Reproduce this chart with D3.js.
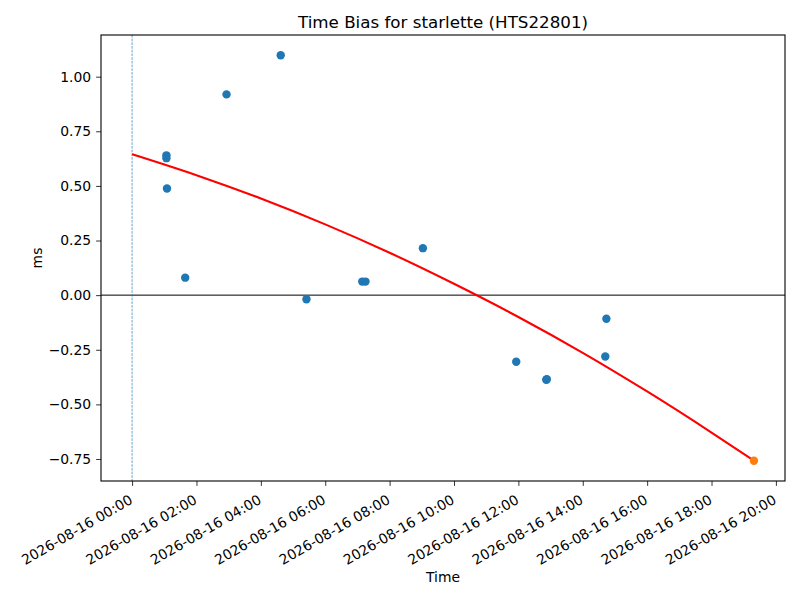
<!DOCTYPE html>
<html><head><meta charset="utf-8">
<script src="https://cdn.jsdelivr.net/npm/d3@7"></script>
<style>body{margin:0;background:#fff}svg{font-family:"DejaVu Sans",sans-serif}</style>
</head><body><svg id="c" width="800" height="600"></svg>
<script>
const title = "Time Bias for starlette (HTS22801)";
const xLabel = "Time";
const yLabel = "ms";
const obsTimes = ["2026-08-16 01:04","2026-08-16 01:04","2026-08-16 01:05","2026-08-16 01:39","2026-08-16 02:56","2026-08-16 04:37","2026-08-16 05:25","2026-08-16 07:09","2026-08-16 07:15","2026-08-16 09:02","2026-08-16 11:56","2026-08-16 12:52","2026-08-16 12:53","2026-08-16 14:42","2026-08-16 14:44"];
const obsValues = [0.640,0.627,0.488,0.080,0.919,1.098,-0.019,0.062,0.062,0.215,-0.305,-0.387,-0.385,-0.281,-0.108];
const latestTime = ["2026-08-16 19:19"];
const latestValue = [-0.758];
const fitTimes = ["2026-08-16 00:00","2026-08-16 02:00","2026-08-16 04:00","2026-08-16 06:00","2026-08-16 08:00","2026-08-16 10:00","2026-08-16 12:00","2026-08-16 14:00","2026-08-16 16:00","2026-08-16 18:00","2026-08-16 19:19"];
const fitValues = [0.645,0.549,0.442,0.324,0.194,0.052,-0.100,-0.264,-0.441,-0.629,-0.758];
const refTime = "2026-08-16 00:00";
const yTicks = [-0.75,-0.50,-0.25,0.00,0.25,0.50,0.75,1.00];
const xTickTimes = ["2026-08-16 00:00","2026-08-16 02:00","2026-08-16 04:00","2026-08-16 06:00","2026-08-16 08:00","2026-08-16 10:00","2026-08-16 12:00","2026-08-16 14:00","2026-08-16 16:00","2026-08-16 18:00","2026-08-16 20:00"];

const parse = d3.timeParse("%Y-%m-%d %H:%M");
const fmt = d3.timeFormat("%Y-%m-%d %H:%M");
const obs = obsTimes.map((t,i)=>({t:parse(t),v:obsValues[i]}));
const latest = latestTime.map((t,i)=>({t:parse(t),v:latestValue[i]}));
const fit = fitTimes.map((t,i)=>({t:parse(t),v:fitValues[i]}));

const L=101,R=785,T=35,B=481;
const allT = obs.concat(latest,fit).map(d=>+d.t);
const allV = obs.concat(latest,fit).map(d=>d.v);
const [t0,t1]=d3.extent(allT), pt=(t1-t0)*0.05;
const [v0,v1]=d3.extent(allV), pv=(v1-v0)*0.05;
const x=d3.scaleTime().domain([new Date(t0-pt),new Date(t1+pt)]).range([L,R]);
const y=d3.scaleLinear().domain([v0-pv,v1+pv]).range([B,T]);

const svg=d3.select("#c");
const fs=13.9;
// zero line
svg.append("line").attr("x1",L).attr("x2",R).attr("y1",y(0)).attr("y2",y(0)).attr("stroke","#000").attr("stroke-width",1);
// ref dashed line
svg.append("line").attr("x1",x(parse(refTime))).attr("x2",x(parse(refTime))).attr("y1",T).attr("y2",B)
  .attr("stroke","#1f77b4").attr("stroke-opacity",0.75).attr("stroke-width",0.9).attr("stroke-dasharray","2.6,1.1");
// points
svg.append("g").selectAll("circle").data(obs).join("circle").attr("cx",d=>x(d.t)).attr("cy",d=>y(d.v)).attr("r",4.2).attr("fill","#1f77b4");
// fit
svg.append("path").datum(fit).attr("fill","none").attr("stroke","red").attr("stroke-width",2.1)
  .attr("d",d3.line().x(d=>x(d.t)).y(d=>y(d.v)).curve(d3.curveMonotoneX));
svg.append("g").selectAll("circle").data(latest).join("circle").attr("cx",d=>x(d.t)).attr("cy",d=>y(d.v)).attr("r",4.2).attr("fill","#ff7f0e");

// axes
const xa=svg.append("g").attr("transform",`translate(0,${B})`)
  .call(d3.axisBottom(x).tickValues(xTickTimes.map(parse)).tickFormat(fmt).tickSize(4.9).tickPadding(3.5));
xa.selectAll("text").attr("font-size",fs).attr("fill","#000").attr("text-anchor","end")
  .attr("y",0).attr("dy","0.72em").attr("transform","translate(-4,13) rotate(-30)");
const ya=svg.append("g").attr("transform",`translate(${L},0)`)
  .call(d3.axisLeft(y).tickValues(yTicks).tickFormat(d=>d3.format(".2f")(d).replace("-","\u2212")).tickSize(4.9).tickPadding(4.9));
ya.selectAll("text").attr("font-size",fs).attr("fill","#000");
[xa,ya].forEach(a=>{a.select(".domain").remove();a.selectAll("line").attr("stroke","#000").attr("stroke-width",0.8);a.attr("font-family",null);});
// frame
svg.append("rect").attr("x",L).attr("y",T).attr("width",R-L).attr("height",B-T).attr("fill","none").attr("stroke","#000").attr("stroke-width",1.1);

svg.append("text").attr("x",(L+R)/2).attr("y",28).attr("text-anchor","middle").attr("font-size",16.7).text(title);
svg.append("text").attr("x",(L+R)/2).attr("y",582).attr("text-anchor","middle").attr("font-size",fs).text(xLabel);
svg.append("text").attr("transform",`translate(42,${(T+B)/2}) rotate(-90)`).attr("text-anchor","middle").attr("font-size",fs).text(yLabel);
</script></body></html>
